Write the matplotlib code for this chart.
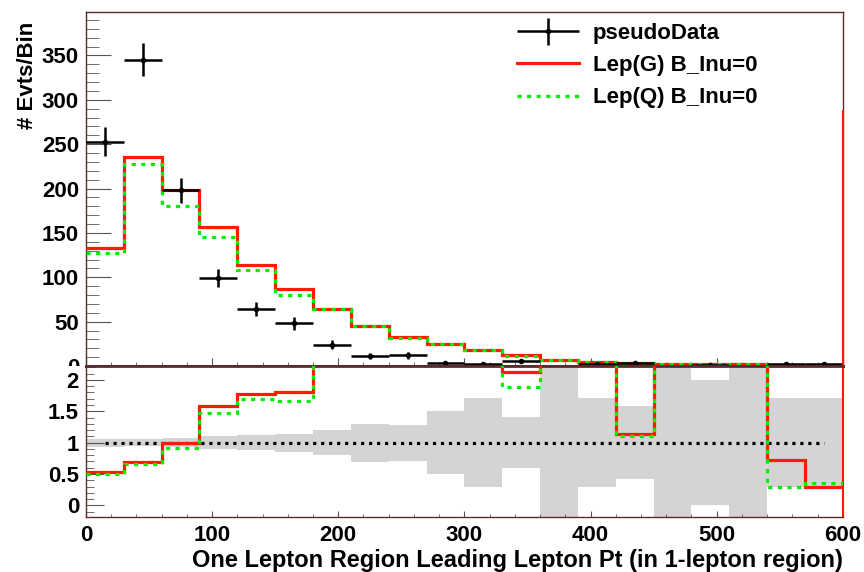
import numpy as np
import matplotlib
matplotlib.use('Agg')
import matplotlib.pyplot as plt
from matplotlib.ticker import MultipleLocator, FormatStrFormatter
from matplotlib.container import ErrorbarContainer
from matplotlib.legend_handler import HandlerErrorbar
from matplotlib.transforms import Bbox, TransformedBbox

plt.rcParams['font.family'] = ['Liberation Sans', 'DejaVu Sans']
plt.rcParams['font.weight'] = 'bold'
plt.rcParams['axes.labelweight'] = 'bold'

# bins of leading lepton pt (GeV)
edges = np.arange(0, 601, 30)
pseudo_data = np.array([253, 345, 198, 99, 64, 48, 24, 11, 12, 4, 2, 6, 0, 2, 3, 0, 1, 0, 2, 2], dtype=float)
lep_g = np.array([133, 236, 198, 157, 114, 87, 64, 45, 33, 25, 18, 12.8, 6.8, 5.0, 3.4, 2.5, 2.4, 2.0, 1.45, 0.6])
lep_q = np.array([127, 228, 180, 145, 108, 80, 64, 45, 32, 25, 18, 11.3, 7.0, 4.8, 3.3, 2.4, 2.3, 1.8, 0.6, 0.72])

frame_col = '#5c2b2b'
tick_col = '#555555'
red = '#ff1a00'
green = '#00ee00'

centers = 0.5 * (edges[:-1] + edges[1:])
halfw = np.diff(edges) / 2
has = pseudo_data > 0
safe = np.where(has, pseudo_data, 1)
ratio_g = np.where(has, lep_g / safe, 50)
ratio_q = np.where(has, lep_q / safe, 50)
rel = np.where(has, 1 / np.sqrt(safe), 50)

fig = plt.figure(figsize=(8.64, 5.72), dpi=100)
ax1 = fig.add_axes([0.0995, 0.36, 0.876, 0.619])
ax2 = fig.add_axes([0.0995, 0.0967, 0.876, 0.2633])

# ---- top panel
ax1.stairs(lep_g, edges, baseline=None, color=red, lw=2.3, label='Lep(G) B_Inu=0', zorder=3)
ax1.stairs(lep_q, edges, baseline=None, color=green, lw=2.3, ls=(0, (1.3, 1.7)), label='Lep(Q) B_Inu=0', zorder=4)
ax1.errorbar(centers[has], pseudo_data[has], xerr=halfw[has], yerr=np.sqrt(pseudo_data[has]),
             fmt='o', ms=3, color='black', elinewidth=1.8, capsize=0, label='pseudoData', zorder=5)
ax1.plot([edges[-1], edges[-1]], [0, 288], color=red, lw=1.5, zorder=6, clip_on=False)

ax1.set_xlim(edges[0], edges[-1])
ax1.set_ylim(0, 399)
ax1.set_ylabel('# Evts/Bin', fontsize=16, loc='top')
ax1.yaxis.set_label_coords(-0.064, 0.972)
ax1.xaxis.set_major_locator(MultipleLocator(100))
ax1.xaxis.set_minor_locator(MultipleLocator(20))
ax1.yaxis.set_major_locator(MultipleLocator(50))
ax1.yaxis.set_minor_locator(MultipleLocator(10))
ax1.tick_params(axis='x', which='both', direction='in', labelbottom=False, color=tick_col)
ax1.tick_params(axis='x', which='major', length=6)
ax1.tick_params(axis='x', which='minor', length=3)
ax1.tick_params(axis='y', which='major', direction='in', length=18, color=tick_col, labelsize=16, pad=5)
ax1.tick_params(axis='y', which='minor', direction='in', length=9, color=tick_col)

handles, labels = ax1.get_legend_handles_labels()
order = [2, 0, 1]
ax1.legend([handles[i] for i in order], [labels[i] for i in order],
           loc='upper left', bbox_to_anchor=(0.555, 1.0), frameon=False, fontsize=16,
           handlelength=2.8, handletextpad=0.6, labelspacing=0.5, borderaxespad=0.1,
           handler_map={ErrorbarContainer: HandlerErrorbar(xerr_size=1.4, yerr_size=0.6)})

# ---- ratio panel
ax2.stairs(1 + rel, edges, baseline=1 - rel, fill=True, color='#d4d4d4', lw=0, zorder=1)
ax2.plot([centers[0], centers[-1]], [1, 1], color='black', lw=2.3, ls=(0, (1, 1.5)), zorder=2)
ax2.stairs(ratio_g, edges, baseline=None, color=red, lw=2.3, zorder=3)
ax2.stairs(ratio_q, edges, baseline=None, color=green, lw=2.3, ls=(0, (1.3, 1.7)), zorder=4)

ax2.set_xlim(edges[0], edges[-1])
ax2.set_ylim(-0.18, 2.22)
ax2.xaxis.set_major_locator(MultipleLocator(100))
ax2.xaxis.set_minor_locator(MultipleLocator(20))
ax2.yaxis.set_major_locator(MultipleLocator(0.5))
ax2.yaxis.set_minor_locator(MultipleLocator(0.1))
ax2.yaxis.set_major_formatter(FormatStrFormatter('%g'))
ax2.tick_params(axis='x', which='major', direction='in', length=4, color=tick_col, labelsize=16, pad=6)
ax2.tick_params(axis='x', which='minor', direction='in', length=2, color=tick_col)
ax2.tick_params(axis='y', which='major', direction='in', length=13, color=tick_col, labelsize=16, pad=5)
ax2.tick_params(axis='y', which='minor', direction='in', length=6, color=tick_col)
ax2.set_xlabel('One Lepton Region Leading Lepton Pt (in 1-lepton region)', fontsize=17, loc='right')
ax2.xaxis.labelpad = 2

for ax in (ax1, ax2):
    for s in ax.spines.values():
        s.set_color(frame_col)
        s.set_linewidth(1.0)
ax1.spines['bottom'].set_linewidth(2.0)
ax2.spines['top'].set_linewidth(2.0)
ax2.spines['right'].set_color(red)
ax2.spines['right'].set_linewidth(1.5)

# the ratio pad hides the lower half of the top pad's "0" label, as in ROOT
fig.canvas.draw()
top_pad = TransformedBbox(Bbox([[0, 0.36], [1, 1]]), fig.transFigure)
for lbl in ax1.get_yticklabels():
    lbl.set_clip_box(top_pad)
    lbl.set_clip_on(True)

fig.savefig('out.png', dpi=100)
